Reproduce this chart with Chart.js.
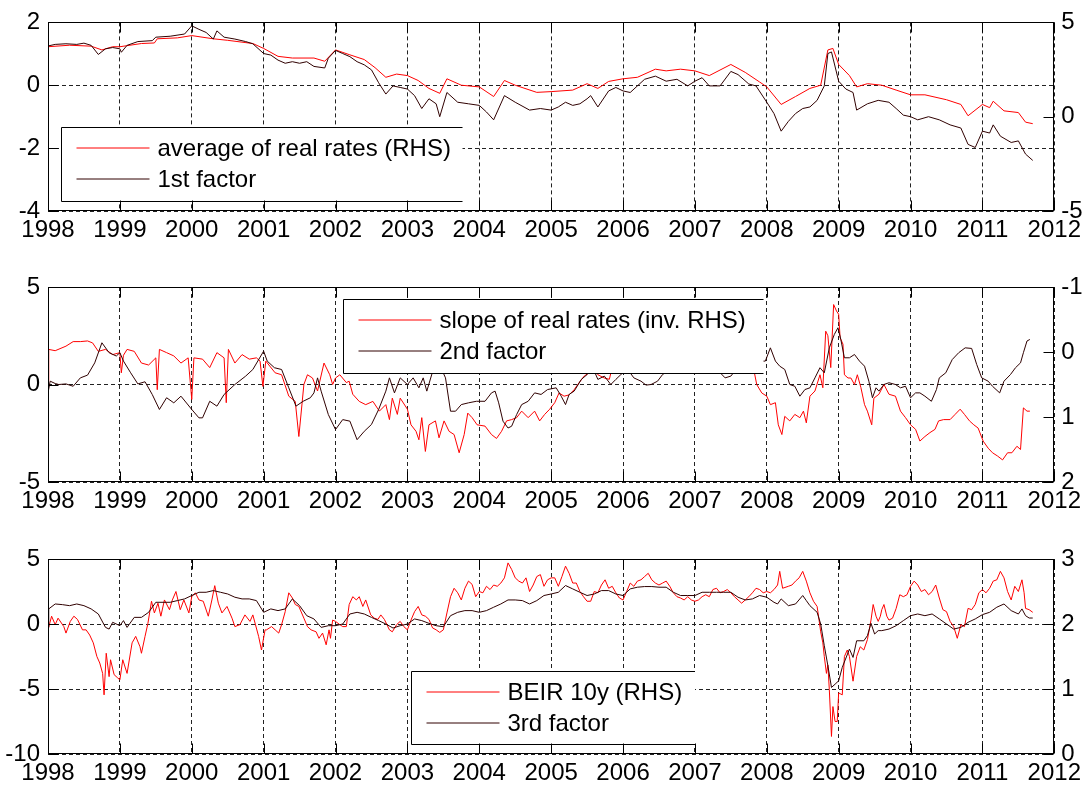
<!DOCTYPE html>
<html><head><meta charset="utf-8">
<script src="https://cdn.jsdelivr.net/npm/chart.js@4.4.1/dist/chart.umd.min.js"></script>
<style>
html,body{margin:0;padding:0;background:#fff;width:1086px;height:793px;overflow:hidden;}
.panel{position:absolute;left:0;width:1086px;}
canvas{display:block;}
</style></head><body>
<div class="panel" style="top:0;height:262px"><canvas id="c1" width="1086" height="262"></canvas></div>
<div class="panel" style="top:262px;height:268px"><canvas id="c2" width="1086" height="268"></canvas></div>
<div class="panel" style="top:530px;height:263px"><canvas id="c3" width="1086" height="263"></canvas></div>
<script>
// ---------------- DATA ----------------
// Panel 1: 1st factor (LHS) and average of real rates (RHS)
const t1Factor = [1998.0,1998.1,1998.25,1998.4,1998.5,1998.6,1998.7,1998.8,1998.9,1999.0,1999.02,1999.1,1999.25,1999.45,1999.5,1999.7,1999.9,2000.0,2000.1,2000.2,2000.3,2000.35,2000.45,2000.6,2000.75,2000.85,2001.0,2001.1,2001.2,2001.3,2001.4,2001.5,2001.6,2001.7,2001.85,2001.9,2002.0,2002.1,2002.2,2002.3,2002.4,2002.5,2002.6,2002.7,2002.8,2002.9,2003.0,2003.1,2003.2,2003.3,2003.4,2003.45,2003.55,2003.7,2003.85,2004.0,2004.1,2004.2,2004.35,2004.5,2004.7,2004.85,2005.0,2005.1,2005.2,2005.3,2005.4,2005.5,2005.55,2005.65,2005.8,2005.9,2006.0,2006.1,2006.2,2006.3,2006.45,2006.6,2006.75,2006.9,2007.0,2007.1,2007.2,2007.35,2007.5,2007.6,2007.75,2007.85,2008.0,2008.1,2008.2,2008.3,2008.4,2008.5,2008.6,2008.7,2008.8,2008.85,2008.9,2009.0,2009.1,2009.2,2009.25,2009.4,2009.55,2009.7,2009.8,2009.9,2010.0,2010.1,2010.25,2010.4,2010.55,2010.7,2010.8,2010.9,2011.0,2011.1,2011.15,2011.25,2011.4,2011.5,2011.6,2011.7];
const factor1 = [1.25,1.30,1.32,1.30,1.34,1.27,0.98,1.16,1.20,1.16,1.05,1.27,1.39,1.42,1.53,1.56,1.63,1.89,1.78,1.68,1.47,1.73,1.53,1.47,1.39,1.32,1.01,0.96,0.80,0.70,0.75,0.70,0.75,0.60,0.55,0.86,1.11,1.01,0.91,0.75,0.65,0.49,0.08,-0.28,-0.02,-0.07,-0.12,-0.33,-0.74,-0.43,-0.59,-1.00,-0.23,-0.54,-0.59,-0.64,-0.85,-1.10,-0.33,-0.54,-0.79,-0.74,-0.79,-0.69,-0.54,-0.64,-0.59,-0.43,-0.33,-0.69,-0.18,-0.07,-0.18,-0.23,-0.02,0.19,0.29,0.13,0.19,-0.02,0.13,0.24,-0.02,-0.02,0.44,0.34,0.04,-0.02,-0.54,-0.90,-1.46,-1.15,-0.90,-0.74,-0.69,-0.48,-0.02,1.01,1.06,0.13,-0.12,-0.23,-0.79,-0.59,-0.48,-0.54,-0.74,-0.95,-1.00,-1.10,-1.00,-1.10,-1.26,-1.36,-1.88,-1.98,-1.46,-1.52,-1.26,-1.62,-1.82,-1.77,-2.19,-2.39];
const t1Average = [1998.0,1998.3,1998.6,1998.75,1998.9,1999.0,1999.3,1999.48,1999.52,1999.8,2000.0,2000.3,2000.5,2000.85,2001.0,2001.2,2001.4,2001.7,2001.85,2002.0,2002.2,2002.4,2002.55,2002.7,2002.85,2003.0,2003.15,2003.3,2003.45,2003.55,2003.75,2004.0,2004.2,2004.35,2004.5,2004.8,2005.0,2005.3,2005.5,2005.65,2005.8,2006.0,2006.2,2006.45,2006.6,2006.8,2007.0,2007.2,2007.5,2007.7,2007.9,2008.0,2008.2,2008.4,2008.6,2008.75,2008.85,2008.92,2009.0,2009.15,2009.25,2009.4,2009.6,2009.8,2010.0,2010.2,2010.5,2010.7,2010.8,2011.0,2011.1,2011.15,2011.3,2011.5,2011.6,2011.7];
const avgRealRates = [3.71,3.79,3.74,3.54,3.71,3.71,3.88,3.91,4.13,4.18,4.30,4.13,4.05,3.88,3.62,3.20,3.11,3.11,2.94,3.54,3.28,3.03,2.60,2.09,2.26,2.18,1.92,1.50,1.24,2.01,1.67,1.58,1.07,1.92,1.67,1.29,1.33,1.41,1.75,1.50,1.87,2.01,2.09,2.52,2.43,2.52,2.43,2.18,2.77,2.35,1.84,1.58,0.65,1.07,1.50,1.67,3.54,3.62,2.77,2.18,1.58,1.75,1.67,1.41,1.16,1.16,0.90,0.65,0.05,0.65,0.48,0.82,0.31,0.22,-0.29,-0.37];

// Panel 2: 2nd factor (LHS) and slope of real rates (inverted RHS)
const t2Factor = [1998.0,1998.03,1998.1,1998.15,1998.25,1998.35,1998.45,1998.55,1998.65,1998.75,1998.85,1998.95,1999.0,1999.05,1999.15,1999.25,1999.35,1999.45,1999.55,1999.65,1999.75,1999.85,2000.0,2000.1,2000.15,2000.25,2000.35,2000.45,2000.6,2000.75,2000.85,2001.0,2001.05,2001.15,2001.25,2001.35,2001.45,2001.55,2001.65,2001.7,2001.75,2001.8,2001.9,2002.0,2002.1,2002.2,2002.3,2002.4,2002.5,2002.6,2002.7,2002.75,2002.82,2002.9,2003.0,2003.08,2003.16,2003.22,2003.27,2003.37,2003.45,2003.53,2003.6,2003.67,2003.75,2003.85,2003.96,2004.08,2004.17,2004.22,2004.27,2004.33,2004.4,2004.45,2004.52,2004.59,2004.68,2004.77,2004.86,2004.95,2005.07,2005.14,2005.2,2005.25,2005.32,2005.42,2005.5,2005.58,2005.65,2005.74,2005.83,2005.9,2005.97,2006.06,2006.15,2006.25,2006.32,2006.39,2006.48,2006.55,2006.7,2006.9,2007.1,2007.3,2007.42,2007.5,2007.6,2007.8,2007.98,2008.05,2008.12,2008.18,2008.25,2008.32,2008.39,2008.46,2008.53,2008.6,2008.67,2008.74,2008.8,2008.87,2008.94,2008.99,2009.03,2009.08,2009.15,2009.22,2009.29,2009.36,2009.42,2009.47,2009.52,2009.56,2009.63,2009.7,2009.79,2009.86,2009.93,2010.0,2010.07,2010.13,2010.2,2010.29,2010.36,2010.4,2010.49,2010.58,2010.67,2010.76,2010.85,2010.92,2010.99,2011.08,2011.14,2011.24,2011.3,2011.39,2011.46,2011.53,2011.57,2011.62,2011.66];
const factor2 = [-0.43,0.17,0.05,0.00,0.03,-0.09,0.34,0.48,1.11,2.14,1.63,1.46,1.63,1.20,0.60,0.03,0.14,-0.51,-1.28,-0.68,-0.94,-0.60,-1.28,-1.71,-1.71,-0.86,-1.11,-0.51,0.00,0.43,0.77,1.71,1.20,0.86,0.77,-0.17,-1.11,-0.86,-0.68,-0.43,0.34,-0.34,-1.54,-2.31,-1.80,-1.88,-2.83,-2.40,-2.05,-1.28,-0.34,0.34,-0.43,0.34,0.00,0.34,-0.17,0.34,-0.34,0.90,1.00,0.34,-1.37,-1.37,-1.03,-0.94,-0.86,-0.86,-0.43,-0.34,-0.94,-1.88,-2.23,-2.14,-1.54,-1.03,-0.86,-0.43,-0.51,-0.26,-0.17,-0.60,-1.03,-0.51,-0.34,0.26,0.51,0.86,0.26,0.43,0.00,0.26,0.51,0.80,0.34,0.17,-0.03,0.00,0.17,0.51,0.90,1.10,0.90,0.80,0.34,0.43,0.90,1.20,1.20,1.88,1.20,0.94,0.77,0.00,-0.09,-0.60,-0.26,-0.17,0.34,0.86,0.60,1.88,2.57,2.91,2.31,1.37,1.37,1.54,1.20,0.94,0.17,-0.68,-0.17,-0.34,0.00,0.09,0.00,-0.17,-0.09,-0.68,-0.43,-0.43,-0.60,-0.86,-0.26,0.34,0.60,1.28,1.63,1.88,1.85,1.03,0.34,0.17,-0.09,-0.43,0.17,0.51,0.86,1.11,1.63,2.23,2.31];
const t2Slope = [1998.0,1998.01,1998.1,1998.25,1998.35,1998.45,1998.55,1998.62,1998.7,1998.8,1998.9,1999.0,1999.02,1999.05,1999.1,1999.2,1999.3,1999.4,1999.5,1999.52,1999.55,1999.65,1999.75,1999.85,1999.95,2000.0,2000.03,2000.15,2000.25,2000.35,2000.45,2000.48,2000.51,2000.6,2000.7,2000.8,2000.9,2000.95,2000.99,2001.03,2001.16,2001.25,2001.35,2001.44,2001.49,2001.56,2001.61,2001.68,2001.75,2001.84,2001.92,2001.96,2002.0,2002.06,2002.15,2002.19,2002.24,2002.33,2002.42,2002.52,2002.61,2002.7,2002.75,2002.79,2002.86,2002.9,2003.0,2003.05,2003.12,2003.16,2003.2,2003.25,2003.3,2003.39,2003.44,2003.51,2003.58,2003.65,2003.72,2003.79,2003.84,2003.9,2003.97,2004.08,2004.17,2004.24,2004.31,2004.38,2004.45,2004.52,2004.59,2004.68,2004.77,2004.84,2004.91,2004.98,2005.05,2005.11,2005.18,2005.25,2005.32,2005.39,2005.46,2005.53,2005.58,2005.65,2005.74,2005.81,2005.88,2005.97,2006.06,2006.15,2006.25,2006.34,2006.41,2006.5,2006.6,2006.67,2006.76,2006.83,2006.88,2006.93,2007.02,2007.12,2007.19,2007.26,2007.33,2007.42,2007.49,2007.58,2007.65,2007.7,2007.74,2007.81,2007.86,2007.93,2008.0,2008.05,2008.12,2008.16,2008.21,2008.25,2008.32,2008.39,2008.46,2008.51,2008.55,2008.6,2008.67,2008.74,2008.78,2008.82,2008.85,2008.89,2008.93,2008.97,2009.0,2009.02,2009.06,2009.08,2009.13,2009.17,2009.22,2009.26,2009.31,2009.36,2009.4,2009.46,2009.49,2009.56,2009.63,2009.7,2009.79,2009.86,2009.93,2010.0,2010.07,2010.13,2010.2,2010.27,2010.34,2010.39,2010.46,2010.55,2010.62,2010.69,2010.75,2010.82,2010.88,2010.94,2011.01,2011.08,2011.14,2011.21,2011.28,2011.35,2011.41,2011.48,2011.53,2011.57,2011.62,2011.66];
const slopeRealRates = [0.45,-0.04,-0.02,-0.09,-0.16,-0.16,-0.17,-0.14,-0.01,-0.04,0.04,0.01,0.32,0.05,-0.04,-0.01,0.17,0.20,0.09,0.58,-0.04,0.01,0.06,0.17,0.09,0.73,0.09,0.11,0.24,0.01,0.09,0.78,-0.04,0.17,0.04,0.11,0.09,0.14,0.53,0.14,0.32,0.35,0.68,0.76,1.30,0.50,0.35,0.40,0.60,0.17,0.35,0.50,0.40,0.35,0.47,0.45,0.65,0.76,0.81,0.76,0.91,0.81,1.04,0.71,0.96,0.71,0.88,1.12,1.22,1.35,1.01,1.53,1.12,1.06,1.32,1.06,1.22,1.27,1.55,1.27,0.94,1.01,1.12,1.14,1.27,1.33,1.22,1.06,1.04,1.01,0.91,1.01,0.91,1.06,0.96,0.88,0.78,0.63,0.68,0.66,0.58,0.47,0.37,0.32,0.23,0.35,0.40,0.42,0.09,0.03,0.09,0.11,0.19,0.28,0.22,0.11,0.09,-0.04,-0.12,-0.14,-0.19,-0.04,-0.04,-0.01,0.14,0.22,0.19,0.01,0.00,-0.01,-0.07,0.06,0.04,0.22,0.50,0.63,0.68,0.81,0.78,1.12,1.27,0.99,1.06,0.96,1.01,0.91,1.09,0.68,0.60,0.35,0.55,-0.32,-0.25,0.24,-0.73,-0.63,-0.58,-0.22,-0.12,0.35,0.40,0.40,0.50,0.35,0.55,0.81,0.91,1.12,0.71,0.65,0.50,0.65,0.68,0.91,1.01,1.12,1.19,1.37,1.30,1.24,1.19,1.06,1.04,1.04,0.96,0.88,0.96,1.06,1.12,1.17,1.37,1.48,1.55,1.60,1.66,1.55,1.55,1.45,1.50,0.86,0.91,0.91];

// Panel 3: 3rd factor (LHS) and BEIR 10y (RHS)
const t3Factor = [1998.0,1998.01,1998.1,1998.2,1998.3,1998.4,1998.5,1998.6,1998.7,1998.8,1998.85,1998.9,1999.0,1999.05,1999.1,1999.2,1999.3,1999.4,1999.5,1999.6,1999.7,1999.8,1999.9,2000.0,2000.1,2000.2,2000.3,2000.4,2000.5,2000.6,2000.7,2000.8,2000.9,2001.0,2001.1,2001.2,2001.3,2001.4,2001.5,2001.6,2001.7,2001.8,2001.9,2002.0,2002.1,2002.2,2002.3,2002.4,2002.5,2002.6,2002.7,2002.8,2002.9,2003.0,2003.1,2003.2,2003.3,2003.4,2003.5,2003.6,2003.7,2003.8,2003.9,2004.0,2004.1,2004.2,2004.3,2004.4,2004.5,2004.6,2004.7,2004.8,2004.9,2005.0,2005.1,2005.2,2005.3,2005.4,2005.5,2005.6,2005.7,2005.8,2005.9,2006.0,2006.1,2006.2,2006.3,2006.4,2006.5,2006.6,2006.7,2006.8,2006.9,2007.0,2007.1,2007.2,2007.3,2007.4,2007.5,2007.6,2007.7,2007.8,2007.9,2008.0,2008.1,2008.15,2008.2,2008.3,2008.4,2008.5,2008.55,2008.6,2008.7,2008.75,2008.8,2008.85,2008.9,2008.95,2009.0,2009.05,2009.15,2009.2,2009.25,2009.35,2009.4,2009.45,2009.5,2009.55,2009.6,2009.7,2009.8,2009.9,2010.0,2010.1,2010.2,2010.3,2010.4,2010.5,2010.6,2010.7,2010.8,2010.9,2011.0,2011.1,2011.2,2011.3,2011.4,2011.5,2011.55,2011.6,2011.65,2011.7];
const factor3 = [-0.26,1.16,1.54,1.49,1.41,1.54,1.41,1.16,0.77,-0.26,-0.39,0.13,-0.13,0.26,-0.26,0.51,0.51,0.90,1.67,1.67,1.67,1.80,1.93,2.19,2.44,2.44,2.57,2.44,2.31,2.06,1.93,1.93,1.80,0.90,1.16,1.03,1.16,1.93,1.41,0.64,0.39,-0.26,-0.13,-0.13,0.00,0.77,0.90,0.77,0.51,0.26,0.00,-0.31,-0.13,0.00,0.39,0.26,0.05,-0.13,-0.21,0.64,0.90,1.03,1.03,0.90,1.03,1.29,1.54,1.85,1.85,1.80,1.54,1.80,2.19,2.31,2.44,2.96,2.70,2.44,2.19,2.31,2.57,2.57,2.31,2.19,2.70,2.83,2.88,2.88,2.83,2.83,2.44,2.19,2.19,2.19,2.44,2.44,2.44,2.44,2.44,2.06,1.85,1.93,2.19,2.06,1.67,1.54,1.93,1.41,1.54,2.19,1.80,1.41,0.90,0.00,-1.67,-3.21,-4.88,-4.63,-4.37,-3.34,-1.93,-2.57,-1.29,-1.29,-0.90,0.05,-0.77,-0.51,-0.51,-0.39,-0.13,0.26,0.64,0.77,0.64,0.77,0.39,0.00,-0.39,-0.26,0.13,0.39,0.72,0.90,1.29,1.54,1.03,0.77,1.16,0.64,0.46,0.46];
const t3Beir = [1998.0,1998.05,1998.1,1998.14,1998.22,1998.25,1998.31,1998.36,1998.41,1998.48,1998.53,1998.58,1998.63,1998.68,1998.72,1998.76,1998.78,1998.81,1998.85,1998.87,1998.92,1998.97,1999.0,1999.04,1999.1,1999.17,1999.22,1999.28,1999.3,1999.35,1999.39,1999.44,1999.48,1999.53,1999.57,1999.62,1999.69,1999.73,1999.78,1999.84,1999.89,1999.96,2000.0,2000.05,2000.1,2000.16,2000.23,2000.28,2000.32,2000.37,2000.42,2000.49,2000.56,2000.6,2000.67,2000.74,2000.81,2000.85,2000.93,2000.97,2001.02,2001.04,2001.11,2001.16,2001.21,2001.25,2001.3,2001.35,2001.4,2001.44,2001.49,2001.56,2001.61,2001.66,2001.73,2001.77,2001.82,2001.87,2001.91,2001.93,2001.96,2002.0,2002.06,2002.1,2002.15,2002.19,2002.24,2002.29,2002.33,2002.38,2002.42,2002.49,2002.54,2002.59,2002.63,2002.68,2002.75,2002.79,2002.85,2002.9,2002.95,2003.0,2003.05,2003.1,2003.15,2003.2,2003.25,2003.3,2003.35,2003.4,2003.45,2003.5,2003.55,2003.6,2003.65,2003.7,2003.75,2003.8,2003.85,2003.9,2003.95,2004.0,2004.05,2004.1,2004.15,2004.2,2004.25,2004.3,2004.35,2004.4,2004.45,2004.5,2004.55,2004.6,2004.65,2004.7,2004.75,2004.8,2004.85,2004.9,2004.95,2005.0,2005.05,2005.1,2005.15,2005.2,2005.25,2005.3,2005.35,2005.4,2005.45,2005.5,2005.55,2005.6,2005.65,2005.7,2005.75,2005.8,2005.85,2005.9,2005.95,2006.0,2006.05,2006.1,2006.15,2006.2,2006.25,2006.3,2006.35,2006.4,2006.45,2006.5,2006.55,2006.6,2006.65,2006.7,2006.75,2006.8,2006.85,2006.9,2006.95,2007.0,2007.05,2007.1,2007.15,2007.2,2007.25,2007.3,2007.35,2007.4,2007.45,2007.5,2007.55,2007.6,2007.65,2007.7,2007.75,2007.8,2007.85,2007.9,2007.95,2008.0,2008.05,2008.1,2008.15,2008.18,2008.22,2008.3,2008.35,2008.4,2008.45,2008.5,2008.55,2008.6,2008.65,2008.7,2008.72,2008.75,2008.78,2008.8,2008.83,2008.85,2008.87,2008.9,2008.92,2008.95,2008.98,2009.0,2009.05,2009.08,2009.12,2009.15,2009.2,2009.25,2009.3,2009.35,2009.4,2009.45,2009.48,2009.52,2009.55,2009.58,2009.6,2009.63,2009.67,2009.7,2009.75,2009.8,2009.85,2009.9,2009.95,2010.0,2010.05,2010.1,2010.15,2010.2,2010.25,2010.3,2010.35,2010.4,2010.45,2010.5,2010.55,2010.6,2010.65,2010.7,2010.75,2010.8,2010.85,2010.9,2010.95,2011.0,2011.05,2011.1,2011.15,2011.2,2011.25,2011.3,2011.35,2011.4,2011.45,2011.5,2011.55,2011.58,2011.6,2011.65,2011.7];
const beir10y = [1.91,2.12,1.99,2.09,1.96,1.86,2.04,2.12,2.07,1.91,1.91,1.83,1.71,1.50,1.40,1.24,0.91,1.55,1.19,1.45,1.22,1.17,1.14,1.45,1.24,1.71,1.81,1.65,1.55,1.81,2.01,2.35,2.17,2.32,2.12,2.37,2.22,2.37,2.50,2.22,2.37,2.17,2.42,2.48,2.37,2.35,2.12,2.37,2.59,2.32,2.17,2.27,2.09,1.96,1.99,2.14,2.04,2.14,1.81,1.60,1.91,1.91,1.96,1.91,1.86,1.99,2.19,2.48,2.40,2.30,2.27,2.09,1.96,1.91,1.88,1.78,1.86,1.68,1.91,1.78,2.06,2.04,1.99,1.96,1.96,2.30,2.42,2.37,2.42,2.27,2.37,2.14,2.09,2.07,2.14,2.07,1.91,1.88,1.99,2.04,1.96,1.91,2.06,2.19,2.27,2.14,2.12,2.07,1.94,1.91,1.87,1.91,2.17,2.42,2.55,2.48,2.37,2.55,2.66,2.61,2.42,2.50,2.48,2.58,2.53,2.60,2.58,2.63,2.71,2.94,2.84,2.71,2.66,2.63,2.71,2.50,2.60,2.73,2.76,2.58,2.68,2.71,2.71,2.58,2.73,2.89,2.78,2.63,2.63,2.50,2.42,2.35,2.35,2.50,2.48,2.60,2.68,2.55,2.58,2.48,2.40,2.37,2.50,2.63,2.58,2.66,2.68,2.73,2.78,2.68,2.63,2.60,2.63,2.66,2.58,2.48,2.42,2.40,2.37,2.42,2.37,2.35,2.37,2.42,2.45,2.42,2.53,2.55,2.48,2.50,2.53,2.48,2.42,2.37,2.32,2.37,2.42,2.48,2.55,2.53,2.48,2.50,2.48,2.53,2.60,2.81,2.55,2.58,2.60,2.66,2.71,2.81,2.66,2.48,2.35,2.27,2.12,1.88,1.71,1.50,1.24,1.37,0.99,0.27,0.73,0.50,0.50,0.94,0.91,1.50,1.60,1.50,1.12,1.50,1.65,1.60,1.76,2.06,2.30,2.12,2.04,2.12,2.22,2.30,2.12,2.06,2.09,2.24,2.45,2.42,2.45,2.58,2.66,2.60,2.50,2.53,2.45,2.50,2.60,2.40,2.22,2.19,2.04,1.96,1.78,1.99,1.96,2.24,2.22,2.30,2.48,2.53,2.48,2.55,2.66,2.68,2.81,2.71,2.50,2.37,2.58,2.50,2.68,2.48,2.24,2.22,2.18];

// Axis ranges / tick steps
const xYears = [1998, 2012];
const p1Left = [-4, 2, 2], p1Right = [-5, 5, 5];
const p2Left = [-5, 5, 5], p2Right = [-1, 2, 1];
const p3Left = [-10, 5, 5], p3Right = [0, 3, 1];

// Legend labels
const p1Labels = ['average of real rates (RHS)', '1st factor'];
const p2Labels = ['slope of real rates (inv. RHS)', '2nd factor'];
const p3Labels = ['BEIR 10y (RHS)', '3rd factor'];

// ---------------- STYLE ----------------
const FONT = '"Liberation Sans", Arial, sans-serif';
const FSIZE = 24;
const RED = '#ff0000';
const DARK = '#300000';
Chart.defaults.font.family = FONT;
Chart.defaults.font.size = FSIZE;
Chart.defaults.color = '#000';

const pts = (t, v) => t.map((x, i) => ({x: x, y: v[i]}));

const boxLegend = {
  id: 'boxLegend',
  afterDatasetsDraw(chart, args, o) {
    const ctx = chart.ctx;
    const [x0, y0, x1, y1] = o.box;
    ctx.save();
    ctx.fillStyle = '#fff';
    ctx.fillRect(x0, y0, x1 - x0, y1 - y0);
    ctx.strokeStyle = '#000';
    ctx.lineWidth = 1;
    ctx.beginPath();
    ctx.moveTo(x1, y0); ctx.lineTo(x0, y0); ctx.lineTo(x0, y1); ctx.lineTo(x1, y1);
    ctx.stroke();
    ctx.font = FSIZE + 'px ' + FONT;
    ctx.textBaseline = 'middle';
    ctx.textAlign = 'left';
    o.order.forEach((di, k) => {
      const ds = chart.data.datasets[di];
      const y = y0 + o.rows[k];
      ctx.strokeStyle = ds.borderColor;
      ctx.lineWidth = 1;
      ctx.beginPath();
      ctx.moveTo(x0 + 15, y); ctx.lineTo(x0 + 88, y);
      ctx.stroke();
      ctx.fillStyle = '#000';
      ctx.fillText(ds.label, x0 + 96, y + 1.5);
    });
    ctx.restore();
  }
};

const frame = {
  id: 'frame',
  afterDraw(chart) {
    const ctx = chart.ctx;
    const a = chart.chartArea;
    const L = Math.round(a.left) + 0.5, R = Math.round(a.right) - 0.5;
    const T = Math.round(a.top) + 0.5, B = Math.round(a.bottom) - 0.5;
    ctx.save();
    ctx.strokeStyle = '#000';
    ctx.lineWidth = 1;
    ctx.strokeRect(L, T, R - L, B - T);
    const TL = 10;
    ctx.beginPath();
    const xs = chart.scales.x;
    xs.ticks.forEach(t => {
      const p = Math.round(xs.getPixelForValue(t.value)) + 0.5;
      ctx.moveTo(p, B); ctx.lineTo(p, B - TL);
      ctx.moveTo(p, T); ctx.lineTo(p, T + TL);
    });
    const ys = chart.scales.y;
    ys.ticks.forEach(t => {
      const p = Math.round(ys.getPixelForValue(t.value)) + 0.5;
      ctx.moveTo(L, p); ctx.lineTo(L + TL, p);
    });
    const y2 = chart.scales.y2;
    y2.ticks.forEach(t => {
      const p = Math.round(y2.getPixelForValue(t.value)) + 0.5;
      ctx.moveTo(R, p); ctx.lineTo(R - TL, p);
    });
    ctx.stroke();
    ctx.restore();
  }
};

function makeChart(id, H, top, bottom, left, right, reverseRight, labels, redT, redV, darkT, darkV, legendBox) {
  const xH = H - bottom;
  return new Chart(document.getElementById(id), {
    type: 'line',
    data: {
      datasets: [
        {label: labels[0], data: pts(redT, redV), yAxisID: 'y2', borderColor: RED, borderWidth: 1, pointRadius: 0, tension: 0, order: 2},
        {label: labels[1], data: pts(darkT, darkV), yAxisID: 'y', borderColor: DARK, borderWidth: 1, pointRadius: 0, tension: 0, order: 1}
      ]
    },
    options: {
      responsive: false,
      devicePixelRatio: 1,
      animation: false,
      events: [],
      layout: {padding: {top: top, left: 0, right: 0, bottom: 0}, autoPadding: false},
      plugins: {
        legend: {display: false},
        tooltip: {enabled: false},
        boxLegend: {box: legendBox, rows: [20.5, 51.5], order: [0, 1]}
      },
      scales: {
        x: {
          type: 'linear', position: 'bottom', min: xYears[0], max: xYears[1],
          afterFit: s => { s.height = xH; },
          grid: {color: '#222', lineWidth: 1, drawTicks: false},
          border: {display: false, dash: [4, 3]},
          ticks: {stepSize: 1, autoSkip: false, maxRotation: 0, padding: 5, callback: v => String(v), color: '#000'}
        },
        y: {
          type: 'linear', position: 'left', min: left[0], max: left[1],
          afterFit: s => { s.width = 48; },
          grid: {color: '#222', lineWidth: 1, drawTicks: false},
          border: {display: false, dash: [4, 3]},
          ticks: {stepSize: left[2], padding: 8, callback: v => String(v), color: '#000'}
        },
        y2: {
          type: 'linear', position: 'right', min: right[0], max: right[1], reverse: reverseRight,
          afterFit: s => { s.width = 31; },
          grid: {drawOnChartArea: false, drawTicks: false},
          border: {display: false},
          ticks: {stepSize: right[2], padding: 7, callback: v => String(v), color: '#000'}
        }
      }
    },
    plugins: [boxLegend, frame]
  });
}

makeChart('c1', 262, 15, 211, p1Left, p1Right, false, p1Labels, t1Average, avgRealRates, t1Factor, factor1, [61.5, 127.5, 462.5, 201.5]);
makeChart('c2', 268, 25, 220, p2Left, p2Right, true, p2Labels, t2Slope, slopeRealRates, t2Factor, factor2, [343.5, 37.5, 763.5, 111.5]);
makeChart('c3', 263, 29, 224, p3Left, p3Right, false, p3Labels, t3Beir, beir10y, t3Factor, factor3, [411.5, 141.5, 695, 214.5]);
</script>
</body></html>
